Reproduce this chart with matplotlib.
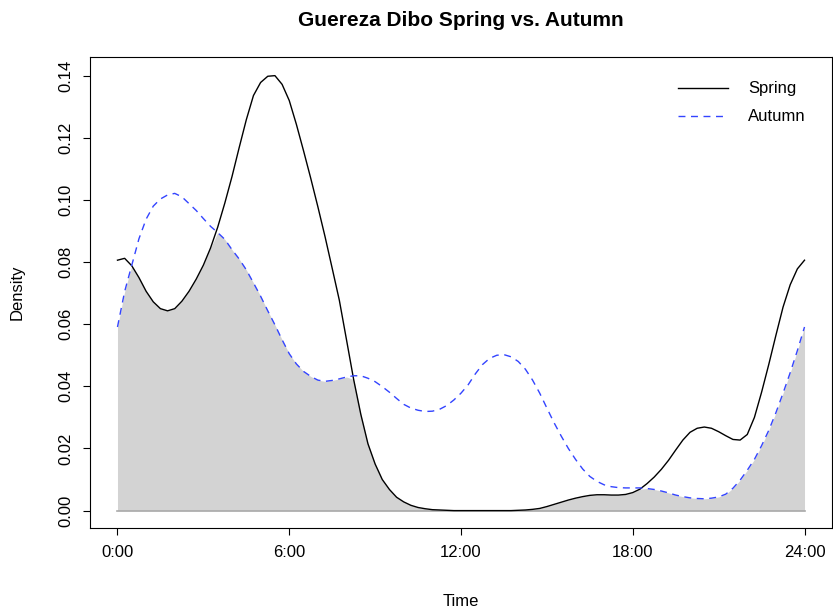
import numpy as np
import matplotlib
matplotlib.use("Agg")
import matplotlib.pyplot as plt

plt.rcParams['font.family'] = ['Liberation Sans', 'DejaVu Sans']

# density estimates, every quarter hour from 0:00 to 24:00
hours = np.arange(0, 24.25, 0.25)
spring = [0.0806, 0.0812, 0.0788, 0.0750, 0.0706, 0.0672, 0.0650, 0.0643,
          0.0650, 0.0674, 0.0706, 0.0745, 0.0790, 0.0845, 0.0912, 0.0990,
          0.1075, 0.1168, 0.1258, 0.1336, 0.1378, 0.1398, 0.1400, 0.1372,
          0.1320, 0.1243, 0.1158, 0.1070, 0.0978, 0.0882, 0.0780, 0.0677,
          0.0550, 0.0422, 0.0310, 0.0215, 0.0150, 0.0100, 0.0068, 0.0043,
          0.0028, 0.0017, 0.0010, 0.0006, 0.0003, 0.0002, 0.0001, 0.0,
          0.0, 0.0, 0.0, 0.0, 0.0, 0.0, 0.0, 0.0,
          0.0001, 0.0002, 0.0004, 0.0007, 0.0013, 0.0020, 0.0027, 0.0034,
          0.0040, 0.0045, 0.0049, 0.0051, 0.0051, 0.0050, 0.0050, 0.0052,
          0.0058, 0.0069, 0.0087, 0.0108, 0.0133, 0.0162, 0.0195, 0.0227,
          0.0252, 0.0265, 0.0269, 0.0265, 0.0254, 0.0241, 0.0229, 0.0227,
          0.0245, 0.0300, 0.0381, 0.0470, 0.0564, 0.0655, 0.0727, 0.0778,
          0.0806]
autumn = [0.0591, 0.0705, 0.0790, 0.0875, 0.0938, 0.0980, 0.1003, 0.1016,
          0.1021, 0.1010, 0.0988, 0.0966, 0.0940, 0.0915, 0.0895, 0.0873,
          0.0840, 0.0810, 0.0775, 0.0733, 0.0690, 0.0643, 0.0598, 0.0550,
          0.0505, 0.0472, 0.0448, 0.0432, 0.0420, 0.0416, 0.0419, 0.0424,
          0.0430, 0.0434, 0.0434, 0.0426, 0.0415, 0.0399, 0.0381, 0.0361,
          0.0342, 0.0330, 0.0323, 0.0319, 0.0320, 0.0326, 0.0338, 0.0356,
          0.0378, 0.0405, 0.0440, 0.0470, 0.0490, 0.0500, 0.0502, 0.0495,
          0.0480, 0.0455, 0.0420, 0.0378, 0.0330, 0.0283, 0.0240, 0.0200,
          0.0165, 0.0134, 0.0110, 0.0094, 0.0083, 0.0077, 0.0074, 0.0073,
          0.0073, 0.0073, 0.0071, 0.0068, 0.0063, 0.0057, 0.0050, 0.0045,
          0.0041, 0.0039, 0.0038, 0.0040, 0.0044, 0.0053, 0.0072, 0.0098,
          0.0130, 0.0165, 0.0209, 0.0258, 0.0315, 0.0378, 0.0444, 0.0515,
          0.0591]
series_names = ['Spring', 'Autumn']
xtick_pos = [0, 6, 12, 18, 24]
xtick_labels = ['0:00', '6:00', '12:00', '18:00', '24:00']
ytick_pos = [0.00, 0.02, 0.04, 0.06, 0.08, 0.10, 0.12, 0.14]

spring = np.array(spring)
autumn = np.array(autumn)

fig = plt.figure(figsize=(8.33, 6.14), dpi=100)
ax = fig.add_axes([90 / 833, 1 - 528 / 614, 742 / 833, 471 / 614])

# overlap area
ax.fill_between(hours, 0, np.minimum(spring, autumn), color='#d3d3d3', lw=0)
ax.plot([hours[0], hours[-1]], [0, 0], color='#a9a9a9', lw=1.2)

ax.plot(hours, spring, color='black', lw=1, label=series_names[0])
ax.plot(hours, autumn, color='#3344ff', lw=1, dashes=(5, 4), label=series_names[1])

ax.set_xlim(-0.96, 24.96)
ax.set_ylim(-0.0056, 0.146)
ax.set_xticks(xtick_pos)
ax.set_xticklabels(xtick_labels)
ax.set_yticks(ytick_pos)
ax.set_yticklabels(['%.2f' % v for v in ytick_pos], rotation=90, va='center')
ax.tick_params(direction='out', length=5, width=0.8, labelsize=12, pad=7)

for s in ax.spines.values():
    s.set_linewidth(0.8)

ax.set_title('Guereza Dibo Spring vs. Autumn', fontsize=15, fontweight='bold', pad=22)
ax.set_xlabel('Time', fontsize=12, labelpad=25)
ax.set_ylabel('Density', fontsize=12, labelpad=24)

leg = ax.legend(loc='upper right', frameon=False, fontsize=12,
                handlelength=3, handletextpad=1.2, labelspacing=0.78,
                bbox_to_anchor=(0.985, 0.98))

fig.savefig('out.png', dpi=100)
